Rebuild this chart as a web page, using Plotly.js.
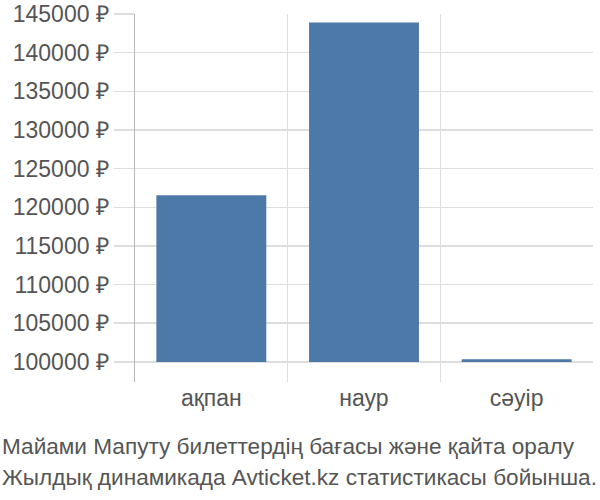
<!DOCTYPE html>
<html>
<head>
<meta charset="utf-8">
<script src="https://cdn.plot.ly/plotly-3.0.1.min.js"></script>
<style>
  html, body { margin: 0; padding: 0; background: #fff; }
  #plot { width: 600px; height: 500px; }
</style>
</head>
<body>
<div id="plot"></div>
<script>
const months = ["ақпан", "наур", "сәуір"];
const prices = [121560, 143890, 100350];
const baseline = 100000;
const yTicks = [100000, 105000, 110000, 115000, 120000, 125000, 130000, 135000, 140000, 145000];
const yTickText = yTicks.map((v) => v + " ₽");
const captionLines = [
  "Майами Мапуту билеттердің бағасы және қайта оралу",
  "Жылдық динамикада Avticket.kz статистикасы бойынша."
];

const plotDiv = document.getElementById("plot");

const trace = {
  type: "bar",
  x: months,
  y: prices.map((p) => p - baseline),
  base: baseline,
  marker: { color: "#4d79a8" },
  hoverinfo: "skip",
};

const tickSize = 23;
const captionSize = 22.6;

const layout = {
  width: 600,
  height: 500,
  margin: { l: 135, r: 7, t: 14, b: 118 },
  paper_bgcolor: "#fff",
  plot_bgcolor: "#fff",
  font: { family: "Liberation Sans, Arial, sans-serif", size: tickSize, color: "#555" },
  bargap: 0.28,
  showlegend: false,
  xaxis: {
    type: "category",
    tickson: "boundaries",
    showgrid: true,
    gridcolor: "#dddddd",
    gridwidth: 1.5,
    ticks: "",
    showline: false,
    zeroline: false,
    tickfont: { size: tickSize, color: "#555" },
  },
  yaxis: {
    range: [97400, 145000],
    tickvals: yTicks,
    ticktext: yTickText,
    showgrid: true,
    gridcolor: "#dddddd",
    gridwidth: 1.5,
    ticks: "outside",
    ticklen: 20,
    tickcolor: "#dddddd",
    tickwidth: 1.5,
    showline: true,
    linecolor: "#b5b5b5",
    linewidth: 1.5,
    zeroline: false,
    tickfont: { size: tickSize, color: "#555" },
  },
  annotations: captionLines.map((line, i) => ({
    text: line,
    xref: "paper",
    yref: "paper",
    x: -135 / 458,
    y: i === 0 ? -0.175 : -0.26,
    xanchor: "left",
    yanchor: "middle",
    showarrow: false,
    font: { size: captionSize, color: "#555" },
  })),
};

Plotly.newPlot(plotDiv, [trace], layout, { displayModeBar: false, staticPlot: true });
</script>
</body>
</html>
